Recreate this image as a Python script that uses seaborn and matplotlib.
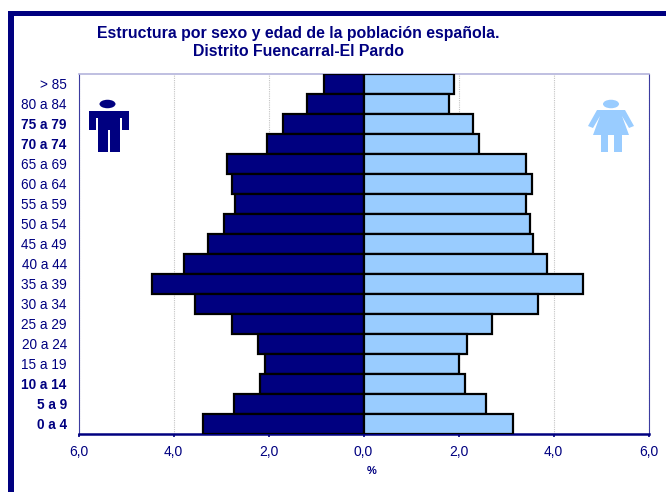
import matplotlib
matplotlib.use('Agg')
import matplotlib.pyplot as plt
import seaborn as sns
from matplotlib.patches import Rectangle, Polygon, Ellipse

# datos (% de poblacion)
grupos = ['> 85', '80 a 84', '75 a 79', '70 a 74', '65 a 69', '60 a 64', '55 a 59', '50 a 54', '45 a 49',
          '40 a 44', '35 a 39', '30 a 34', '25 a 29', '20 a 24', '15 a 19', '10 a 14', '5 a 9', '0 a 4']
hombres = [0.84, 1.18, 1.70, 2.03, 2.88, 2.77, 2.71, 2.94, 3.27,
           3.77, 4.45, 3.55, 2.77, 2.22, 2.08, 2.18, 2.72, 3.37]
mujeres = [1.91, 1.81, 2.30, 2.44, 3.42, 3.54, 3.42, 3.50, 3.56,
           3.87, 4.63, 3.67, 2.70, 2.18, 2.02, 2.13, 2.58, 3.15]
ticks_x = [-6, -4, -2, 0, 2, 4, 6]
etiquetas_x = ['6,0', '4,0', '2,0', '0,0', '2,0', '4,0', '6,0']
grupos_negrita = ['75 a 79', '70 a 74', '10 a 14', '5 a 9', '0 a 4']

AZUL = '#000080'
CELESTE = '#99ccff'
W, H = 666, 492

sns.set_theme(style='white')
plt.rcParams['font.family'] = ['Liberation Sans', 'DejaVu Sans']

fig = plt.figure(figsize=(W / 100, H / 100), dpi=100, facecolor='white')
ax = fig.add_axes([78.5 / W, 1 - 433.5 / H, 570 / W, 360 / H])


# pasa pixeles de la imagen (y hacia abajo) a coordenadas de figura
def px(x, y):
    return (x / W, 1 - y / H)


sns.barplot(x=[-v for v in hombres], y=grupos, color=AZUL, saturation=1, width=1,
            edgecolor='black', linewidth=1.6, ax=ax, zorder=3)
sns.barplot(x=mujeres, y=grupos, color=CELESTE, saturation=1, width=1,
            edgecolor='black', linewidth=1.6, ax=ax, zorder=3)

ax.set_xlim(-6, 6)
ax.set_xticks(ticks_x)
ax.set_xticklabels(etiquetas_x, fontsize=10, color=AZUL)
ax.set_xlabel('')
ax.set_ylabel('')
ax.xaxis.grid(True, color='#c4c4c4', linewidth=0.8, linestyle=(0, (1, 1)))
ax.yaxis.grid(False)
ax.set_axisbelow(True)
ax.tick_params(axis='x', length=2.5, width=1.2, color=AZUL, pad=5.5, bottom=True)
ax.tick_params(axis='y', length=0, pad=8.4)

for lab in ax.get_yticklabels():
    lab.set_color(AZUL)
    lab.set_fontsize(9.8)
    if lab.get_text() in grupos_negrita:
        lab.set_fontweight('bold')

ax.spines['top'].set_color('#b4b4dc')
ax.spines['top'].set_linewidth(1.2)
ax.spines['left'].set_color('#3c3ca0')
ax.spines['left'].set_linewidth(0.8)
ax.spines['right'].set_color('#3c3ca0')
ax.spines['right'].set_linewidth(0.8)
ax.spines['bottom'].set_color(AZUL)
ax.spines['bottom'].set_linewidth(1.8)

# titulo en dos lineas y % del eje
fig.text(*px(298.5, 33), 'Estructura por sexo y edad de la población española.', ha='center', va='center',
         fontsize=11.4, fontweight='bold', color=AZUL)
fig.text(*px(298.5, 51.5), 'Distrito Fuencarral-El Pardo', ha='center', va='center',
         fontsize=11.4, fontweight='bold', color=AZUL)
fig.text(*px(372, 471), '%', ha='center', va='center', fontsize=8, fontweight='bold', color=AZUL)

# marco azul de la pagina (izquierda y arriba)
fig.add_artist(Rectangle(px(8, 492), 5.5 / W, 481 / H, transform=fig.transFigure, color=AZUL, lw=0))
fig.add_artist(Rectangle(px(8, 15.5), 658 / W, 4.5 / H, transform=fig.transFigure, color=AZUL, lw=0))

# iconos hombre / mujer
hombre_px = [(89, 111), (129, 111), (129, 130), (122, 130), (122, 118), (119.5, 118), (119.5, 152), (109.5, 152),
             (109.5, 130), (107.5, 130), (107.5, 152), (98, 152), (98, 118), (96, 118), (96, 130), (89, 130)]
mujer_px = [(597, 110), (625, 110), (634, 126), (629, 128), (622, 116), (629, 135), (622, 135), (622, 152),
            (614, 152), (614, 135), (608, 135), (608, 152), (601, 152), (601, 135), (593, 135), (600, 116),
            (593, 128), (588, 126)]
fig.add_artist(Polygon([px(*p) for p in hombre_px], transform=fig.transFigure, color=AZUL, lw=0))
fig.add_artist(Ellipse(px(107.5, 104), 16 / W, 8.5 / H, transform=fig.transFigure, color=AZUL, lw=0))
fig.add_artist(Polygon([px(*p) for p in mujer_px], transform=fig.transFigure, color=CELESTE, lw=0))
fig.add_artist(Ellipse(px(611, 104), 16 / W, 8.5 / H, transform=fig.transFigure, color=CELESTE, lw=0))

fig.savefig('out.png', dpi=100)
